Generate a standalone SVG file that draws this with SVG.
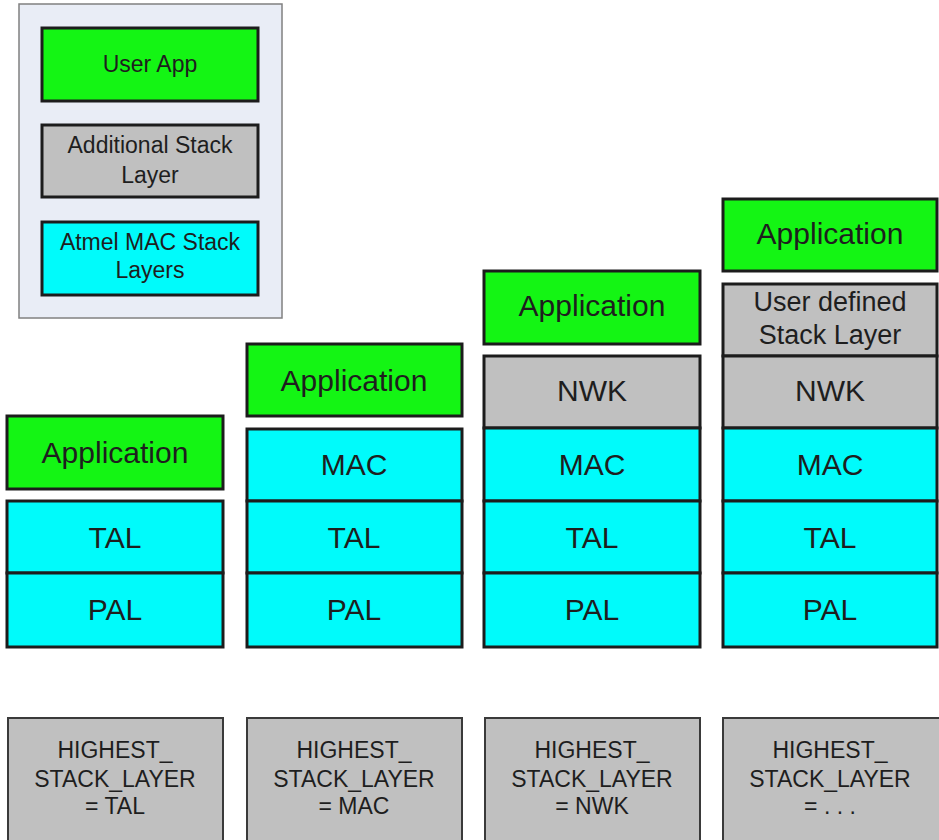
<svg xmlns="http://www.w3.org/2000/svg" width="939" height="840" viewBox="0 0 939 840">
<style>
.box{stroke:#1c1c1c;stroke-width:3}
.g{fill:#14f514}
.c{fill:#00fbfb}
.y{fill:#c0c0c0}
.t{font-family:"Liberation Sans",Arial,sans-serif;fill:#1e1e1e;text-anchor:middle}
.big{font-size:30px}
.mid{font-size:27px}
.leg{font-size:23px}
.bb{fill:#c0c0c0;stroke:#3a3a3a;stroke-width:2}
.sm{font-size:23px}
</style>
<rect width="939" height="840" fill="#ffffff"/>
<g id="legend">
<rect x="19" y="4" width="263" height="314" fill="#e9edf6" stroke="#808080" stroke-width="1.5"/>
<g id="legend-user-app"><rect class="box g" x="42" y="28" width="216" height="73"/><text class="t leg" x="150" y="72">User App</text></g>
<g id="legend-additional"><rect class="box y" x="42" y="125" width="216" height="72"/><text class="t leg" x="150" y="153">Additional Stack</text><text class="t leg" x="150" y="183">Layer</text></g>
<g id="legend-atmel"><rect class="box c" x="42" y="222" width="216" height="73"/><text class="t leg" x="150" y="250">Atmel MAC Stack</text><text class="t leg" x="150" y="278">Layers</text></g>
</g>
<g id="col1">
<g id="c1-app"><rect class="box g" x="7" y="416" width="216" height="73"/><text class="t big" x="115" y="463">Application</text></g>
<g id="c1-tal"><rect class="box c" x="7" y="501" width="216" height="72"/><text class="t big" x="115" y="548">TAL</text></g>
<g id="c1-pal"><rect class="box c" x="7" y="573" width="216" height="74"/><text class="t big" x="115" y="620">PAL</text></g>
</g>
<g id="col2">
<g id="c2-app"><rect class="box g" x="247" y="344" width="215" height="72"/><text class="t big" x="354" y="391">Application</text></g>
<g id="c2-mac"><rect class="box c" x="247" y="429" width="215" height="72"/><text class="t big" x="354" y="475">MAC</text></g>
<g id="c2-tal"><rect class="box c" x="247" y="501" width="215" height="72"/><text class="t big" x="354" y="548">TAL</text></g>
<g id="c2-pal"><rect class="box c" x="247" y="573" width="215" height="74"/><text class="t big" x="354" y="620">PAL</text></g>
</g>
<g id="col3">
<g id="c3-app"><rect class="box g" x="484" y="271" width="216" height="73"/><text class="t big" x="592" y="316">Application</text></g>
<g id="c3-nwk"><rect class="box y" x="484" y="356" width="216" height="72"/><text class="t big" x="592" y="401">NWK</text></g>
<g id="c3-mac"><rect class="box c" x="484" y="428" width="216" height="73"/><text class="t big" x="592" y="475">MAC</text></g>
<g id="c3-tal"><rect class="box c" x="484" y="501" width="216" height="72"/><text class="t big" x="592" y="548">TAL</text></g>
<g id="c3-pal"><rect class="box c" x="484" y="573" width="216" height="74"/><text class="t big" x="592" y="620">PAL</text></g>
</g>
<g id="col4">
<g id="c4-app"><rect class="box g" x="723" y="199" width="214" height="72"/><text class="t big" x="830" y="244">Application</text></g>
<g id="c4-user"><rect class="box y" x="723" y="284" width="214" height="72"/><text class="t mid" x="830" y="311">User defined</text><text class="t mid" x="830" y="344">Stack Layer</text></g>
<g id="c4-nwk"><rect class="box y" x="723" y="356" width="214" height="72"/><text class="t big" x="830" y="401">NWK</text></g>
<g id="c4-mac"><rect class="box c" x="723" y="428" width="214" height="73"/><text class="t big" x="830" y="475">MAC</text></g>
<g id="c4-tal"><rect class="box c" x="723" y="501" width="214" height="72"/><text class="t big" x="830" y="548">TAL</text></g>
<g id="c4-pal"><rect class="box c" x="723" y="573" width="214" height="74"/><text class="t big" x="830" y="620">PAL</text></g>
</g>
<g id="label1"><rect class="bb" x="8" y="718" width="215" height="124"/>
<text class="t sm" x="115" y="758">HIGHEST_</text><text class="t sm" x="115" y="787">STACK_LAYER</text><text class="t sm" x="115" y="814">= TAL</text></g>
<g id="label2"><rect class="bb" x="247" y="718" width="215" height="124"/>
<text class="t sm" x="354" y="758">HIGHEST_</text><text class="t sm" x="354" y="787">STACK_LAYER</text><text class="t sm" x="354" y="814">= MAC</text></g>
<g id="label3"><rect class="bb" x="485" y="718" width="215" height="124"/>
<text class="t sm" x="592" y="758">HIGHEST_</text><text class="t sm" x="592" y="787">STACK_LAYER</text><text class="t sm" x="592" y="814">= NWK</text></g>
<g id="label4"><rect class="bb" x="723" y="718" width="218" height="124"/>
<text class="t sm" x="830" y="758">HIGHEST_</text><text class="t sm" x="830" y="787">STACK_LAYER</text><text class="t sm" x="830" y="814">= . . .</text></g>
<g id="connectors"/>
</svg>
